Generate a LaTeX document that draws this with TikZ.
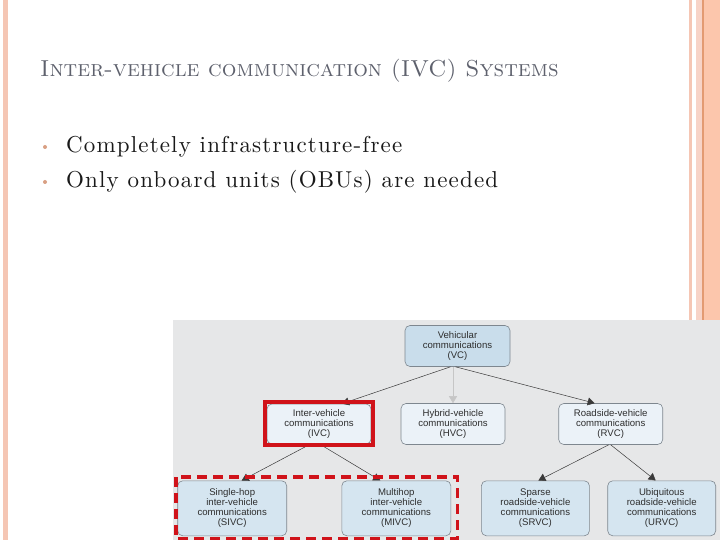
\documentclass[tikz,border=0pt]{standalone}
\usepackage{fontspec}
\usetikzlibrary{arrows.meta}
\newfontfamily\slidefont{lmroman10-regular.otf}[LetterSpace=5]
\newfontfamily\titlefont{lmromancaps10-regular.otf}
\newfontfamily\boxfont{Liberation Sans}
\definecolor{slidebar}{HTML}{F5C6B4}
\definecolor{barpale}{HTML}{F7D3C7}
\definecolor{barorange}{HTML}{E39A72}
\definecolor{barsalmon}{HTML}{FCC6AC}
\definecolor{titlegray}{HTML}{5E616D}
\definecolor{bulletcol}{HTML}{D9A083}
\definecolor{bggray}{HTML}{E6E7E8}
\definecolor{boxdark}{HTML}{C9DDEB}
\definecolor{boxlight}{HTML}{EBF2F8}
\definecolor{boxbottom}{HTML}{D5E5F0}
\definecolor{boxedge}{HTML}{7E878F}
\definecolor{arrowgray}{HTML}{3A3A3A}
\definecolor{ivcred}{HTML}{D0131A}
\definecolor{boxtext}{HTML}{2E2E2E}

\begin{document}
\begin{tikzpicture}[x=1pt,y=-1pt,
  vbox/.style={draw=boxedge,line width=0.6pt,rounded corners=5pt,align=center,inner sep=0pt,
    text=boxtext,font={\boxfont\fontsize{9.6}{9.9}\selectfont}},
  arr/.style={arrowgray,line width=0.5pt,-{Triangle[length=7pt,width=8pt]}},
  redframe/.style={ivcred,line width=4pt}]
\useasboundingbox[fill=white] (0,0) rectangle (720,540);
% slide decoration
\fill[slidebar] (3,0) rectangle (8,540);
\fill[slidebar] (689,0) rectangle (692,322);
\fill[barpale] (696,0) rectangle (702,322);
\fill[barorange] (702,0) rectangle (703.5,322);
\fill[barsalmon] (703.5,0) rectangle (720,322);
% title and bullets
\node[anchor=base west,inner sep=0pt,text=titlegray,font={\titlefont\fontsize{23.1}{28}\selectfont}] (title) at (40,77) {Inter-vehicle communication (IVC) Systems};
\foreach \y/\t [count=\i] in {153/Completely infrastructure-free, 188/Only onboard units (OBUs) are needed}{
  \fill[bulletcol] (45,\y-6) circle (2);
  \node[anchor=base west,inner sep=0pt,text=black!90,font={\slidefont\fontsize{23}{28}\selectfont}] (item\i) at (66,\y) {\t};}
% figure
\fill[bggray] (173,320) rectangle (720,540);
\node[vbox,fill=boxdark,minimum width=105,minimum height=41] (vc) at (457.5,346) {Vehicular\\communications\\(VC)};
\node[vbox,fill=boxlight,minimum width=104,minimum height=40] (ivc) at (319,424) {Inter-vehicle\\communications\\(IVC)};
\node[vbox,fill=boxlight,minimum width=104,minimum height=41] (hvc) at (453,424) {Hybrid-vehicle\\communications\\(HVC)};
\node[vbox,fill=boxlight,minimum width=104,minimum height=41] (rvc) at (610.7,424) {Roadside-vehicle\\communications\\(RVC)};
\node[vbox,fill=boxbottom,minimum width=109,minimum height=55] (sivc) at (232.2,508.3) {Single-hop\\inter-vehicle\\communications\\(SIVC)};
\node[vbox,fill=boxbottom,minimum width=109,minimum height=55] (mivc) at (396.3,508.3) {Multihop\\inter-vehicle\\communications\\(MIVC)};
\node[vbox,fill=boxbottom,minimum width=108,minimum height=55] (srvc) at (535.4,508.3) {Sparse\\roadside-vehicle\\communications\\(SRVC)};
\node[vbox,fill=boxbottom,minimum width=108,minimum height=55] (urvc) at (661.7,508.3) {Ubiquitous\\roadside-vehicle\\communications\\(URVC)};
\foreach \a/\b/\sa/\sb in {vc/ivc/-7/23, vc/rvc/-2/-16, ivc/sivc/-9/9.5, ivc/mivc/1/-16, rvc/srvc/-2/3, rvc/urvc/0/-6}
  \draw[arr] ([xshift=\sa]\a.south) -- ([xshift=\sb]\b.north);
\draw[arr,draw=gray!45] (vc.south -| hvc.north) -- (hvc.north);
% highlight frames
\draw[redframe] ([shift={(-1.8,-2)}]ivc.north west) rectangle ([shift={(2,1)}]ivc.south east);
\draw[redframe,line width=3.5pt,dash pattern=on 10pt off 6pt] ([shift={(-1.5,-3.5)}]sivc.north west) rectangle ([shift={(6.5,2.5)}]mivc.south east);
\end{tikzpicture}
\end{document}
